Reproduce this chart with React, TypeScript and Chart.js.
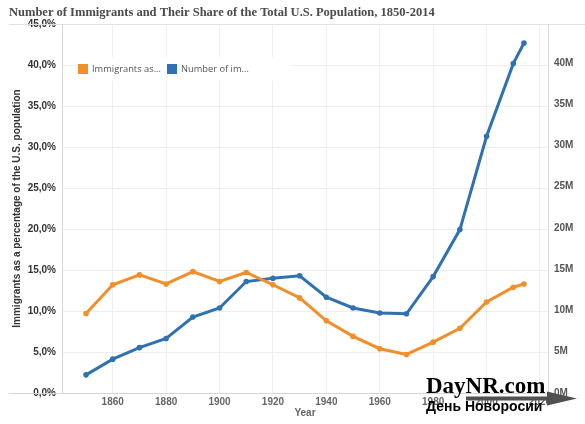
import React, { useEffect, useRef } from "react";
import { Chart, registerables } from "chart.js";

Chart.register(...registerables);

// ---- data ----
const years = [1850, 1860, 1870, 1880, 1890, 1900, 1910, 1920, 1930, 1940, 1950, 1960, 1970, 1980, 1990, 2000, 2010, 2014];
const sharePct = [9.7, 13.2, 14.4, 13.3, 14.8, 13.6, 14.7, 13.2, 11.6, 8.8, 6.9, 5.4, 4.7, 6.2, 7.9, 11.1, 12.9, 13.3];
const immigrantsM = [2.2, 4.1, 5.5, 6.6, 9.2, 10.3, 13.5, 13.9, 14.2, 11.6, 10.3, 9.7, 9.6, 14.1, 19.8, 31.1, 39.9, 42.4];
const xTicks = [1860, 1880, 1900, 1920, 1940, 1960, 1980, 2000, 2020];
const leftTicks = [0, 5, 10, 15, 20, 25, 30, 35, 40, 45];
const rightTicks = [0, 5, 10, 15, 20, 25, 30, 35, 40];
const seriesLabels = ["Immigrants as a percentage of the U.S. population", "Number of immigrants"];
const legendLabels = ["Immigrants as...", "Number of im..."];
const seriesColors = ["#F28E2B", "#3071B2"];
const titleText = "Number of Immigrants and Their Share of the Total U.S. Population, 1850-2014";
const leftAxisTitle = "Immigrants as a percentage of the U.S. population";
const xAxisTitle = "Year";

const SANS = '"Liberation Sans", Arial, sans-serif';

const framePlugin = {
  id: "frame",
  beforeDatasetsDraw(chart: any) {
    const { ctx, chartArea } = chart;
    ctx.save();
    ctx.lineWidth = 1;
    ctx.strokeStyle = "#e2e2e2";
    ctx.beginPath();
    ctx.moveTo(9, Math.round(chartArea.top) + 0.5);
    ctx.lineTo(585, Math.round(chartArea.top) + 0.5);
    ctx.stroke();
    ctx.strokeStyle = "#d6d6d6";
    ctx.beginPath();
    ctx.moveTo(9, Math.round(chartArea.bottom) + 0.5);
    ctx.lineTo(chartArea.right, Math.round(chartArea.bottom) + 0.5);
    ctx.stroke();

    // legend box inside plot
    const lx = chartArea.left + 14;
    const ly = chartArea.top + 33;
    ctx.fillStyle = "#ffffff";
    ctx.fillRect(lx, ly, 216, 24);
    ctx.font = '9.3px "Open Sans", sans-serif';
    ctx.textBaseline = "middle";
    const cy = ly + 12;
    const items = [
      { x: lx + 2, label: legendLabels[0], color: seriesColors[0] },
      { x: lx + 91, label: legendLabels[1], color: seriesColors[1] },
    ];
    items.forEach((it) => {
      ctx.fillStyle = it.color;
      ctx.fillRect(it.x, cy - 5, 10, 10);
      ctx.fillStyle = "#555555";
      ctx.fillText(it.label, it.x + 14, cy);
    });
    ctx.restore();
  },
};

export default function App() {
  const ref = useRef<HTMLCanvasElement | null>(null);

  useEffect(() => {
    if (!ref.current) return;
    const chart = new Chart(ref.current, {
      type: "line",
      data: {
        datasets: [
          {
            label: seriesLabels[0],
            data: years.map((y, i) => ({ x: y, y: sharePct[i] })),
            yAxisID: "yL",
            borderColor: seriesColors[0],
            backgroundColor: seriesColors[0],
            borderWidth: 3,
            pointRadius: 2.8,
            pointBorderWidth: 0,
            tension: 0,
          },
          {
            label: seriesLabels[1],
            data: years.map((y, i) => ({ x: y, y: immigrantsM[i] })),
            yAxisID: "yR",
            borderColor: seriesColors[1],
            backgroundColor: seriesColors[1],
            borderWidth: 3,
            pointRadius: 2.8,
            pointBorderWidth: 0,
            tension: 0,
          },
        ],
      },
      options: {
        animation: false,
        responsive: false,
        events: [],
        layout: { padding: { left: 9, top: 0, right: 0, bottom: 0 } },
        plugins: {
          legend: { display: false },
          tooltip: { enabled: false },
          title: {
            display: true,
            text: titleText,
            align: "start",
            color: "#4a4a4a",
            font: { family: '"Liberation Serif", "DejaVu Serif", serif', size: 12.5, weight: "bold" },
            padding: { top: 5, bottom: 4 },
          },
        },
        scales: {
          x: {
            type: "linear",
            min: 1841,
            max: 2023,
            afterBuildTicks: (s: any) => {
              s.ticks = xTicks.map((v) => ({ value: v }));
            },
            afterFit: (s: any) => {
              s.height = 31;
            },
            grid: { color: "#eeeeee", drawTicks: false },
            border: { color: "#d6d6d6" },
            ticks: {
              autoSkip: false,
              maxRotation: 0,
              padding: 3,
              color: "#666666",
              font: { family: SANS, size: 10, weight: "bold" },
              callback: (v: any) => String(v),
            },
            title: {
              display: true,
              text: xAxisTitle,
              color: "#666666",
              font: { family: SANS, size: 10, weight: "bold" },
              padding: { top: 0, bottom: 5 },
            },
          },
          yL: {
            type: "linear",
            position: "left",
            min: 0,
            max: 45,
            afterBuildTicks: (s: any) => {
              s.ticks = leftTicks.map((v) => ({ value: v }));
            },
            afterFit: (s: any) => {
              s.width = 53;
            },
            grid: { color: "#eeeeee", drawTicks: false },
            border: { color: "#d6d6d6" },
            ticks: {
              padding: 6,
              color: "#333333",
              font: { family: SANS, size: 10, weight: "bold" },
              callback: (v: any) => Number(v).toFixed(1).replace(".", ",") + "%",
            },
            title: {
              display: true,
              text: leftAxisTitle,
              color: "#333333",
              font: { family: SANS, size: 10, weight: "bold" },
              padding: { top: 2, bottom: 0 },
            },
          },
          yR: {
            type: "linear",
            position: "right",
            min: 0,
            max: 44.7,
            afterBuildTicks: (s: any) => {
              s.ticks = rightTicks.map((v) => ({ value: v }));
            },
            afterFit: (s: any) => {
              s.width = 37;
            },
            grid: { drawOnChartArea: false, drawTicks: false },
            border: { color: "#dcdcdc" },
            ticks: {
              padding: 6,
              color: "#555555",
              font: { family: SANS, size: 10, weight: "bold" },
              callback: (v: any) => `${v}M`,
            },
          },
        },
      } as any,
      plugins: [framePlugin],
    });
    return () => chart.destroy();
  }, []);

  return (
    <div style={{ position: "fixed", left: 0, top: 0, width: 585, height: 424, background: "#fff" }}>
      <canvas ref={ref} width={585} height={424} style={{ display: "block" }} />
      <svg
        width={585}
        height={424}
        style={{ position: "absolute", left: 0, top: 0, pointerEvents: "none" }}
      >
        <rect x={466} y={396.5} width={86} height={4} fill="#505050" />
        <polygon points="547,391.5 577,398.5 547,405.5" fill="#505050" />
        <text x={426} y={393} fontFamily='"Liberation Serif", serif' fontWeight="bold" fontSize={23} fill="#000">
          DayNR.com
        </text>
        <text x={426} y={411} fontFamily={SANS} fontWeight="bold" fontSize={14} fill="#000">
          День Новоросии
        </text>
      </svg>
    </div>
  );
}
